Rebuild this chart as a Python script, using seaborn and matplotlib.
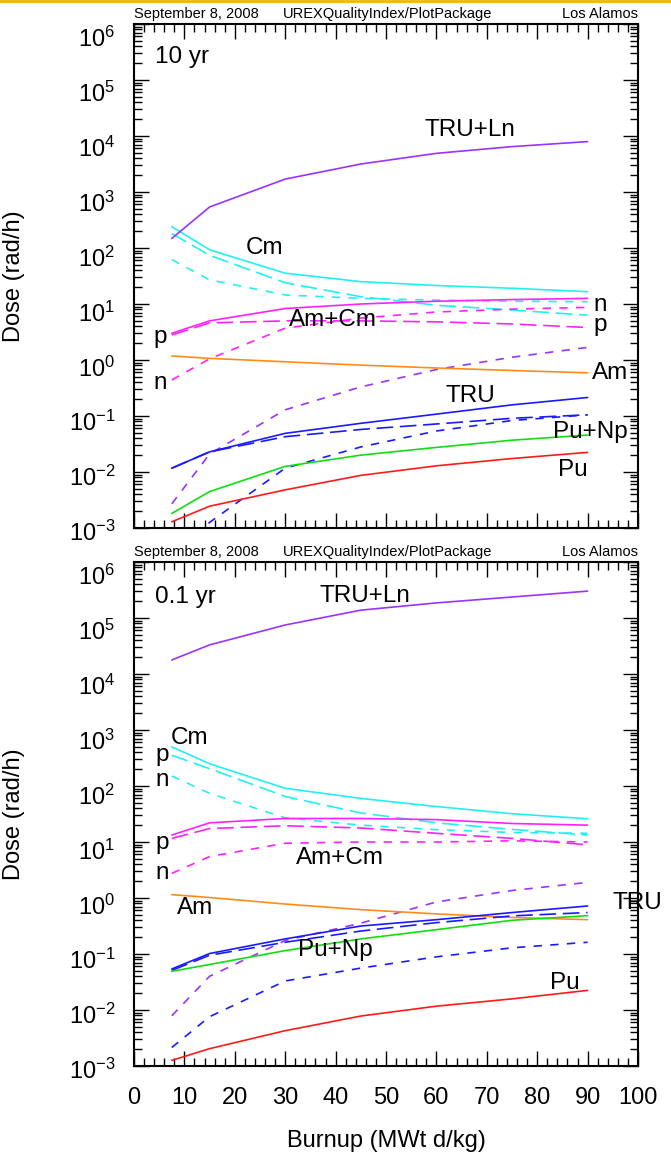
import numpy as np
import pandas as pd
import matplotlib
matplotlib.use("Agg")
import matplotlib.pyplot as plt
import matplotlib.transforms as mtransforms
import seaborn as sns
from matplotlib.ticker import (LogLocator, MultipleLocator, NullFormatter,
                               FixedLocator, LogFormatterSciNotation)
from matplotlib.lines import Line2D

# ---------------- data ----------------
burnup = [7.5, 15, 30, 45, 60, 75, 90]

# 10 yr cooling (rad/h)
y10_truln = [148, 540, 1700, 3160, 4900, 6460, 7940]
y10_truln_n = [0.0027, 0.021, 0.129, 0.331, 0.676, 1.12, 1.68]
y10_cm = [240, 93, 35.5, 25.1, 21.4, 19.1, 16.6]
y10_cm_p = [182, 74, 24, 13.5, 9.5, 7.8, 6.3]
y10_cm_n = [62, 27, 14.5, 12.6, 11.7, 11.2, 11.0]
y10_amcm = [3.0, 5.0, 8.3, 10.0, 11.2, 12.0, 12.6]
y10_amcm_p = [2.8, 4.6, 5.0, 5.0, 4.8, 4.4, 3.8]
y10_amcm_n = [0.44, 1.05, 3.7, 5.6, 7.2, 8.1, 8.7]
y10_am = [1.18, 1.07, 0.93, 0.81, 0.72, 0.65, 0.59]
y10_tru = [0.0117, 0.0229, 0.049, 0.074, 0.108, 0.158, 0.214]
y10_tru_p = [0.0117, 0.0229, 0.0427, 0.0575, 0.072, 0.091, 0.105]
y10_tru_n = [0.0003, 0.00126, 0.0117, 0.028, 0.054, 0.083, 0.105]
y10_punp = [0.00182, 0.00447, 0.0126, 0.020, 0.0275, 0.037, 0.0457]
y10_pu = [0.00129, 0.00245, 0.0048, 0.0087, 0.0129, 0.0174, 0.0224]

# 0.1 yr cooling (rad/h)
y01_truln = [17800, 33100, 75000, 138000, 186000, 237000, 302000]
y01_truln_n = [0.0079, 0.040, 0.174, 0.355, 0.85, 1.36, 1.9]
y01_cm = [500, 250, 91, 60, 43, 32, 26]
y01_cm_p = [355, 204, 65, 33, 22, 16.8, 13.3]
y01_cm_n = [151, 74, 27, 20, 16.6, 14.8, 14.3]
y01_amcm = [13.3, 22, 26.3, 26.3, 25.1, 21.4, 20]
y01_amcm_p = [11.6, 17.4, 19.5, 17.8, 14.3, 11.6, 8.9]
y01_amcm_n = [2.75, 5.5, 9.5, 10.0, 10.0, 10.5, 10.0]
y01_am = [1.15, 1.02, 0.78, 0.62, 0.52, 0.45, 0.41]
y01_tru = [0.054, 0.102, 0.186, 0.316, 0.41, 0.55, 0.72]
y01_tru_p = [0.051, 0.095, 0.162, 0.257, 0.363, 0.479, 0.55]
y01_tru_n = [0.00214, 0.0076, 0.033, 0.056, 0.089, 0.129, 0.162]
y01_punp = [0.049, 0.065, 0.115, 0.186, 0.272, 0.40, 0.484]
y01_pu = [0.00126, 0.00204, 0.00427, 0.0078, 0.0117, 0.0158, 0.0224]

x_ticks = [0, 10, 20, 30, 40, 50, 60, 70, 80, 90, 100]
y_ticks = [1e-3, 1e-2, 1e-1, 1e0, 1e1, 1e2, 1e3, 1e4, 1e5, 1e6]

# ---------------- style ----------------
sns.set_theme(style="ticks")
plt.rcParams['font.family'] = ['Liberation Sans', 'DejaVu Sans']
plt.rcParams['mathtext.fontset'] = 'custom'
plt.rcParams['mathtext.rm'] = 'Liberation Sans'
plt.rcParams['mathtext.it'] = 'Liberation Sans:italic'
plt.rcParams['axes.edgecolor'] = 'black'
plt.rcParams['xtick.color'] = 'black'
plt.rcParams['ytick.color'] = 'black'
plt.rcParams['text.color'] = 'black'
plt.rcParams['axes.labelcolor'] = 'black'

C_PURPLE = '#9933FF'
C_CYAN = '#22F0F0'
C_MAG = '#FF22FF'
C_ORANGE = '#FF8C1A'
C_BLUE = '#1A1AFF'
C_GREEN = '#11DD11'
C_RED = '#FF1A1A'
LS_P = (0, (10, 4))
LS_N = (0, (5, 5))

fig = plt.figure(figsize=(6.71, 11.57), dpi=100)
W, H = 671.0, 1157.0
ax_top = fig.add_axes([134 / W, 1 - 528 / H, 504 / W, 504 / H])
ax_bot = fig.add_axes([134 / W, 1 - 1066 / H, 504 / W, 504 / H])

LW = 1.2


def draw(ax, s):
    for vals, col, ls in s:
        kw = {} if ls is None else {'linestyle': ls}
        sns.lineplot(x=burnup, y=vals, ax=ax, color=col, linewidth=LW, **kw)


top_series = [
    (y10_cm_p, C_CYAN, LS_P), (y10_cm_n, C_CYAN, LS_N), (y10_cm, C_CYAN, None),
    (y10_amcm_p, C_MAG, LS_P), (y10_amcm_n, C_MAG, LS_N), (y10_amcm, C_MAG, None),
    (y10_truln_n, C_PURPLE, LS_N), (y10_truln, C_PURPLE, None),
    (y10_am, C_ORANGE, None),
    (y10_tru_p, C_BLUE, LS_P), (y10_tru_n, C_BLUE, LS_N), (y10_tru, C_BLUE, None),
    (y10_punp, C_GREEN, None), (y10_pu, C_RED, None),
]
bot_series = [
    (y01_cm_p, C_CYAN, LS_P), (y01_cm_n, C_CYAN, LS_N), (y01_cm, C_CYAN, None),
    (y01_amcm_p, C_MAG, LS_P), (y01_amcm_n, C_MAG, LS_N), (y01_amcm, C_MAG, None),
    (y01_truln_n, C_PURPLE, LS_N), (y01_truln, C_PURPLE, None),
    (y01_am, C_ORANGE, None),
    (y01_tru_p, C_BLUE, LS_P), (y01_tru_n, C_BLUE, LS_N), (y01_tru, C_BLUE, None),
    (y01_punp, C_GREEN, None), (y01_pu, C_RED, None),
]

draw(ax_top, top_series)
draw(ax_bot, bot_series)

for ax in (ax_top, ax_bot):
    ax.set_yscale('log')
    ax.set_xlim(0, 100)
    ax.set_ylim(1e-3, 1e6)
    ax.set_xticks(x_ticks)
    ax.xaxis.set_minor_locator(MultipleLocator(2))
    ax.yaxis.set_major_locator(FixedLocator(y_ticks))
    ax.yaxis.set_major_formatter(LogFormatterSciNotation())
    ax.yaxis.set_minor_locator(LogLocator(base=10, subs=np.arange(2, 10), numticks=20))
    ax.yaxis.set_minor_formatter(NullFormatter())
    ax.tick_params(which='both', direction='in', top=True, right=True, width=1.0, color='black')
    ax.tick_params(which='major', length=11)
    ax.tick_params(which='minor', length=5.5)
    ax.tick_params(axis='y', which='major', labelsize=17, pad=13.5)
    ax.tick_params(axis='x', which='major', labelsize=17, pad=15)
    for sp in ax.spines.values():
        sp.set_linewidth(1.5)
        sp.set_color('black')
    ax.set_ylabel('Dose (rad/h)', fontsize=17)
    ax.yaxis.set_label_coords(-0.216, 0.5)
    ax.set_xlabel('')

ax_top.tick_params(axis='x', labelbottom=False)
ax_bot.set_xlabel('Burnup (MWt d/kg)', fontsize=17)
ax_bot.xaxis.set_label_coords(0.5, -0.127)

LBL = 17.5
# top panel labels
ax_top.text(4.2, 10 ** 5.41, '10 yr', fontsize=LBL, ha='left', va='center')
ax_top.text(66.7, 10 ** 4.11, 'TRU+Ln', fontsize=LBL, ha='center', va='center')
ax_top.text(26, 10 ** 2.0, 'Cm', fontsize=LBL, ha='center', va='center')
ax_top.text(91.2, 10 ** 0.98, 'n', fontsize=LBL, ha='left', va='center')
ax_top.text(91.2, 10 ** 0.62, 'p', fontsize=LBL, ha='left', va='center')
ax_top.text(39.5, 10 ** 0.71, 'Am+Cm', fontsize=LBL, ha='center', va='center')
ax_top.text(5.2, 10 ** 0.41, 'p', fontsize=LBL, ha='center', va='center')
ax_top.text(5.2, 10 ** -0.41, 'n', fontsize=LBL, ha='center', va='center')
ax_top.text(94.4, 10 ** -0.23, 'Am', fontsize=LBL, ha='center', va='center')
ax_top.text(66.7, 10 ** -0.64, 'TRU', fontsize=LBL, ha='center', va='center')
ax_top.text(90.5, 10 ** -1.29, 'Pu+Np', fontsize=LBL, ha='center', va='center')
ax_top.text(87.1, 10 ** -1.96, 'Pu', fontsize=LBL, ha='center', va='center')

# bottom panel labels
ax_bot.text(4.2, 10 ** 5.375, '0.1 yr', fontsize=LBL, ha='left', va='center')
ax_bot.text(45.8, 10 ** 5.39, 'TRU+Ln', fontsize=LBL, ha='center', va='center')
ax_bot.text(7.3, 10 ** 2.86, 'Cm', fontsize=LBL, ha='left', va='center')
ax_bot.text(5.6, 10 ** 2.55, 'p', fontsize=LBL, ha='center', va='center')
ax_bot.text(5.6, 10 ** 2.11, 'n', fontsize=LBL, ha='center', va='center')
ax_bot.text(5.6, 10 ** 0.98, 'p', fontsize=LBL, ha='center', va='center')
ax_bot.text(5.6, 10 ** 0.45, 'n', fontsize=LBL, ha='center', va='center')
ax_bot.text(40.9, 10 ** 0.71, 'Am+Cm', fontsize=LBL, ha='center', va='center')
ax_bot.text(12.1, 10 ** -0.18, 'Am', fontsize=LBL, ha='center', va='center')
ax_bot.text(99.8, 10 ** -0.09, 'TRU', fontsize=LBL, ha='center', va='center')
ax_bot.text(39.9, 10 ** -0.93, 'Pu+Np', fontsize=LBL, ha='center', va='center')
ax_bot.text(85.5, 10 ** -1.52, 'Pu', fontsize=LBL, ha='center', va='center')

# header texts
for ytop in (24, 562):
    yy = 1 - (ytop - 3) / H
    fig.text(134 / W, yy, 'September 8, 2008', fontsize=10.5, ha='left', va='bottom')
    fig.text(283 / W, yy, 'UREXQualityIndex/PlotPackage', fontsize=10.5, ha='left', va='bottom')
    fig.text(638 / W, yy, 'Los Alamos', fontsize=10.5, ha='right', va='bottom')

# gold rule at the very top
fig.add_artist(Line2D([0, 1], [1 - 1.2 / H, 1 - 1.2 / H], transform=fig.transFigure,
                      color='#F5B400', linewidth=2.0))

# y tick labels sit below their ticks, more so near the top, as in the reference
for ax in (ax_top, ax_bot):
    ticks = ax.yaxis.get_major_ticks(len(y_ticks))
    for loc, t in zip(y_ticks, ticks):
        dec = np.log10(loc)
        px = 3 + (dec + 3) / 9.0 * 10.0
        off = mtransforms.ScaledTranslation(0, -px / 100, fig.dpi_scale_trans)
        t.label1.set_transform(t.label1.get_transform() + off)

fig.savefig('out.png', dpi=100)
